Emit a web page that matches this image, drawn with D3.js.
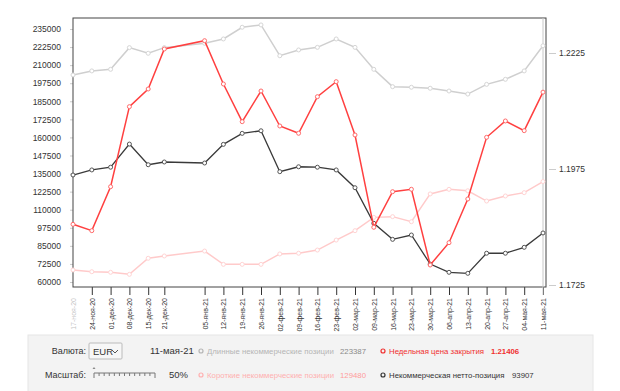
<!DOCTYPE html>
<html>
<head>
<meta charset="utf-8">
<script src="https://cdn.jsdelivr.net/npm/d3@7"></script>
<style>
  body { margin: 0; background: #fff; }
  svg { display: block; font-family: "Liberation Sans", Arial, sans-serif; }
</style>
</head>
<body>
<svg id="chart" width="620" height="391"></svg>
<script>
// weekly COT report dates
const dates = ["2020-11-17", "2020-11-24", "2020-12-01", "2020-12-08", "2020-12-15", "2020-12-21",
  "2021-01-05", "2021-01-12", "2021-01-19", "2021-01-26", "2021-02-02", "2021-02-09",
  "2021-02-16", "2021-02-23", "2021-03-02", "2021-03-09", "2021-03-16", "2021-03-23",
  "2021-03-30", "2021-04-06", "2021-04-13", "2021-04-20", "2021-04-27", "2021-05-04", "2021-05-11"];
const dateLabels = ["17-ноя-20", "24-ноя-20", "01-дек-20", "08-дек-20", "15-дек-20", "21-дек-20",
  "05-янв-21", "12-янв-21", "19-янв-21", "26-янв-21", "02-фев-21", "09-фев-21",
  "16-фев-21", "23-фев-21", "02-мар-21", "09-мар-21", "16-мар-21", "23-мар-21",
  "30-мар-21", "06-апр-21", "13-апр-21", "20-апр-21", "27-апр-21", "04-мая-21", "11-мая-21"];

const longPos = [203200, 206000, 207100, 222100, 218200, 222100, 225100, 228100, 236200, 237800,
  216500, 220500, 222300, 228100, 222300, 207100, 195100, 194700, 194000, 192100, 190000,
  196700, 200200, 206000, 223387];
const shortPos = [68300, 67100, 66700, 65300, 76400, 78000, 81400, 72200, 72200, 72200,
  79400, 79900, 82100, 89000, 95500, 104700, 105200, 101700, 120900, 124100, 123100,
  116000, 119500, 121800, 129480];
const netPos = [134000, 137500, 139400, 155400, 141100, 143000, 142300, 155200, 162800, 164600,
  136300, 139700, 139400, 137500, 125200, 100600, 89500, 92500, 72400, 66700, 66000,
  79900, 79900, 84000, 93907];
const closePrice = [1.18558, 1.18421, 1.19369, 1.21093, 1.21474, 1.22336, 1.22515, 1.21582,
  1.20770, 1.21431, 1.20677, 1.20520, 1.21308, 1.21632, 1.20483, 1.18494, 1.19261, 1.19313,
  1.17681, 1.18162, 1.19104, 1.20433, 1.20785, 1.20576, 1.21406];

const leftTicks = d3.range(60000, 235001, 12500);
const rightTicks = [1.1725, 1.1975, 1.2225];

const svg = d3.select("#chart");
const parse = d3.timeParse("%Y-%m-%d");
const dd = dates.map(parse);

const plotTop = 18, plotBottom = 287, plotLeft = 73, plotRight = 546;
const x = d3.scaleTime().domain([dd[0], dd[dd.length - 1]]).range([plotLeft, 543]);
const yL = d3.scaleLinear().domain([56540, 242600]).range([plotBottom, plotTop]);
const yR = d3.scaleLinear().domain([1.17207, 1.23004]).range([plotBottom, plotTop]);

// left axis
const gl = svg.append("g").attr("transform", `translate(${plotLeft},0)`)
  .call(d3.axisLeft(yL).tickValues(leftTicks).tickSize(10).tickPadding(2).tickFormat(d3.format("d")));
gl.select(".domain").remove();
gl.selectAll(".tick line").attr("stroke", "#ccc").attr("x2", -3);
gl.selectAll(".tick text").attr("fill", "#333").style("font-size", "8.5px");

// right axis
const gr = svg.append("g").attr("transform", `translate(${plotRight},0)`)
  .call(d3.axisRight(yR).tickValues(rightTicks).tickSize(10).tickPadding(3).tickFormat(d3.format(".4f")));
gr.select(".domain").remove();
gr.selectAll(".tick line").attr("stroke", "#ccc").attr("x1", 3);
gr.selectAll(".tick text").attr("fill", "#333").style("font-size", "8.5px");

// bottom axis
const gx = svg.append("g").attr("transform", `translate(0,${plotBottom})`)
  .call(d3.axisBottom(x).tickValues(dd).tickSize(8).tickFormat((d, i) => dateLabels[i]));
gx.select(".domain").remove();
gx.selectAll(".tick line").attr("stroke", "#333");
gx.selectAll(".tick text")
  .attr("fill", "#333")
  .style("font-size", "7px")
  .attr("text-anchor", "end")
  .attr("transform", "rotate(-90)")
  .attr("x", -11).attr("y", 0).attr("dy", "0.35em");
gx.selectAll(".tick").filter((d, i) => i === 0).attr("opacity", 0.3)
  .select("line").remove();

// plot frame
svg.append("rect")
  .attr("x", plotLeft).attr("y", plotTop)
  .attr("width", plotRight - plotLeft).attr("height", plotBottom - plotTop)
  .attr("fill", "none").attr("stroke", "#444").attr("stroke-width", 1);

// cursor line on last date
svg.append("line")
  .attr("x1", x(dd[dd.length - 1])).attr("x2", x(dd[dd.length - 1]))
  .attr("y1", plotTop).attr("y2", plotBottom + 8)
  .attr("stroke", "#c8c8c8");

function series(values, y, color, marker, width) {
  const line = d3.line().x((d, i) => x(dd[i])).y(d => y(d));
  svg.append("path").datum(values)
    .attr("fill", "none").attr("stroke", color).attr("stroke-width", width)
    .attr("d", line);
  svg.append("g").selectAll("circle").data(values).join("circle")
    .attr("cx", (d, i) => x(dd[i])).attr("cy", d => y(d)).attr("r", 2)
    .attr("fill", "#fff").attr("stroke", marker).attr("stroke-width", 1);
}

series(longPos, yL, "#cfcfcf", "#d6d6d6", 1.5);
series(shortPos, yL, "#ffcaca", "#ffd4d4", 1.5);
series(netPos, yL, "#3a3a3a", "#555", 1.3);
series(closePrice, yR, "#ff4040", "#ff6a6a", 1.5);

// control panel
const panel = svg.append("g");
panel.append("rect").attr("x", 28).attr("y", 335).attr("width", 565).attr("height", 60)
  .attr("fill", "#f3f3f3").attr("stroke", "#e6e6e6");

const t = (xx, yy, txt, opts = {}) => panel.append("text")
  .attr("x", xx).attr("y", yy).text(txt)
  .attr("fill", opts.fill || "#333")
  .attr("text-anchor", opts.anchor || "start")
  .style("font-size", (opts.size || 9) + "px")
  .style("font-weight", opts.weight || "normal");

t(86, 354, "Валюта:", { anchor: "end" });
panel.append("rect").attr("x", 89).attr("y", 343).attr("width", 33).attr("height", 16)
  .attr("fill", "#f7f7f7").attr("stroke", "#bbb").attr("rx", 1);
t(93, 354.5, "EUR", { size: 9.5 });
panel.append("path").attr("d", "M112,350 l3,3 l3,-3").attr("fill", "none").attr("stroke", "#555");
t(150, 354, "11-мая-21", { size: 9.5 });

t(86, 378, "Масштаб:", { anchor: "end" });
const slider = d3.scaleLinear().domain([0, 12]).range([94, 155]);
panel.append("line").attr("x1", slider(0)).attr("x2", slider(12)).attr("y1", 373).attr("y2", 373)
  .attr("stroke", "#777");
panel.append("g").selectAll("line").data(d3.range(0, 13)).join("line")
  .attr("x1", d => slider(d)).attr("x2", d => slider(d))
  .attr("y1", 373).attr("y2", d => d % 12 === 0 ? 378 : 376).attr("stroke", "#777");
panel.append("path").attr("d", "M94,367 l-1.5,2 h3 z").attr("fill", "#888");
t(188, 378, "50%", { anchor: "end", size: 9.5 });

const legend = [
  { x: 201, y: 351, label: "Длинные некоммерческие позиции", value: "223387", c: "#b5b5b5", v: "#8a8a8a", vx: 340 },
  { x: 383, y: 351, label: "Недельная цена закрытия", value: "1.21406", c: "#f03030", v: "#f03030", vx: 491, bold: true },
  { x: 201, y: 375, label: "Короткие некоммерческие позиции", value: "129480", c: "#ffb0b0", v: "#ff9c9c", vx: 340 },
  { x: 383, y: 375, label: "Некоммерческая нетто-позиция", value: "93907", c: "#333", v: "#333", vx: 512 }
];
legend.forEach(l => {
  panel.append("circle").attr("cx", l.x).attr("cy", l.y).attr("r", 2)
    .attr("fill", "none").attr("stroke", l.c).attr("stroke-width", 1.2);
  const lab = t(l.x + 6, l.y + 3, l.label, { fill: l.c, size: 7.8 });
  const end = l.x + 6 + lab.node().getComputedTextLength();
  t(Math.max(l.vx, end + 5), l.y + 3, l.value, { fill: l.v, size: 7.8, weight: l.bold ? "bold" : "normal" });
});
</script>
</body>
</html>
